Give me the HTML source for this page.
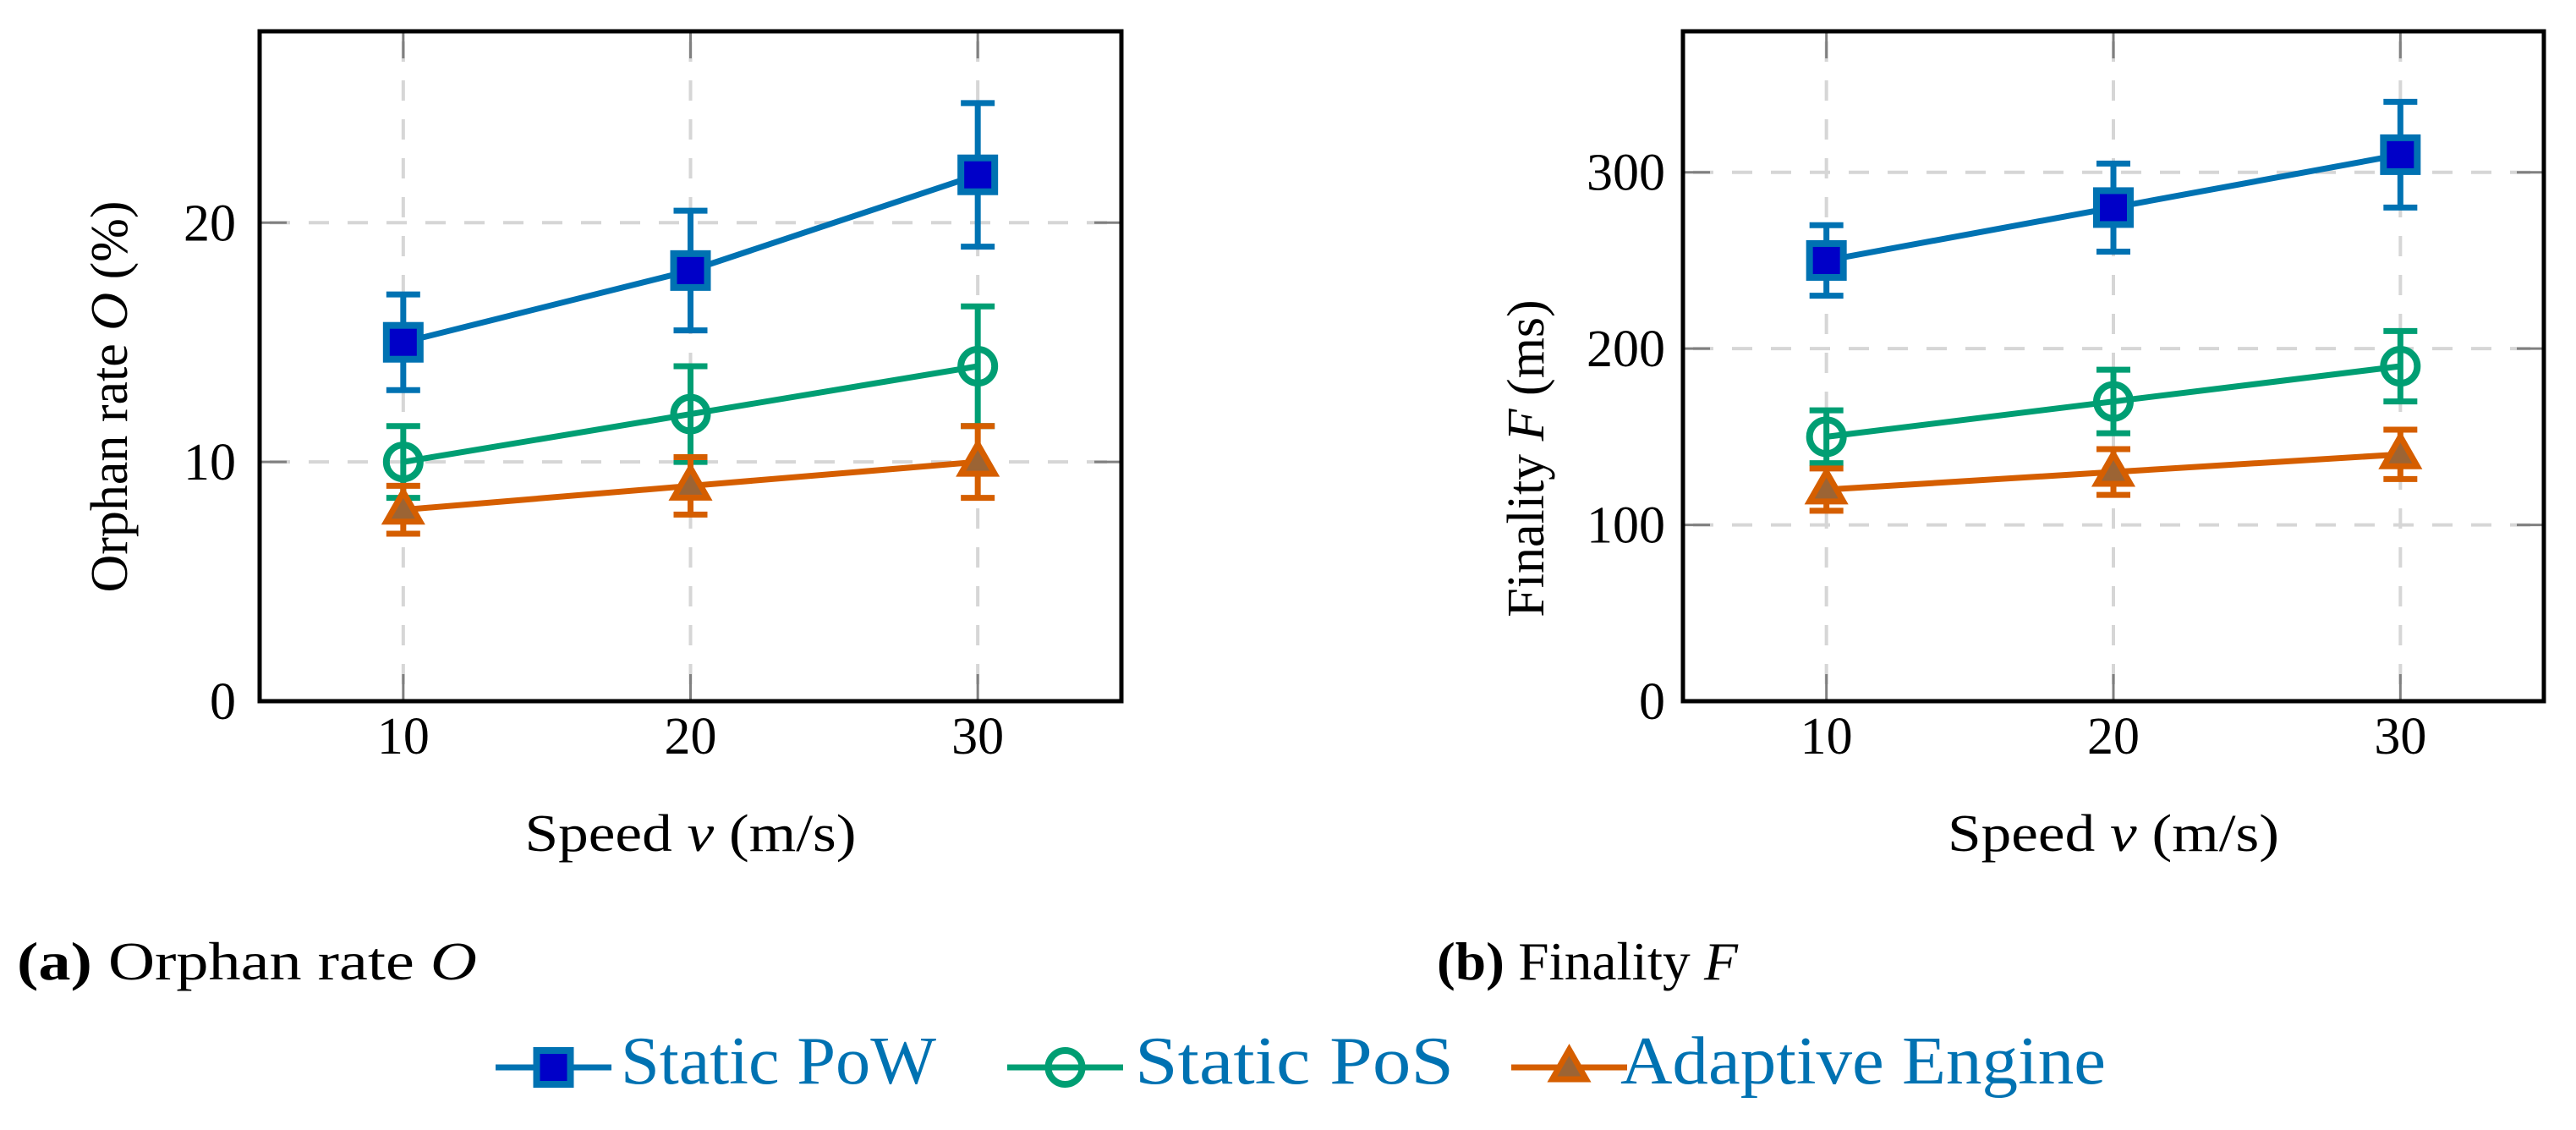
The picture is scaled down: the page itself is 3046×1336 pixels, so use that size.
<!DOCTYPE html>
<html><head><meta charset="utf-8"><style>
html,body{margin:0;padding:0;background:#fff;}
svg{display:block;font-family:"Liberation Serif",serif;}
</style></head><body>
<svg id="fig" width="3046" height="1336" viewBox="0 0 3046 1336" xmlns="http://www.w3.org/2000/svg">
<g id="pa"></g>
<g id="pb"></g>
<text x="20" y="1158" font-size="64" textLength="544" lengthAdjust="spacingAndGlyphs"><tspan font-weight="bold">(a)</tspan> Orphan rate <tspan font-style="italic">O</tspan></text>
<text x="1699" y="1158" font-size="64" textLength="356" lengthAdjust="spacingAndGlyphs"><tspan font-weight="bold">(b)</tspan> Finality <tspan font-style="italic">F</tspan></text>
<g id="legend"></g>
</svg>
<script>
const categories=[10,20,30];
const seriesNames=['Static PoW','Static PoS','Adaptive Engine'];
const orphanPow=[15,18,22];
const orphanPowErr=[2,2.5,3];
const orphanPos=[10,12,14];
const orphanPosErr=[1.5,2,2.5];
const orphanAda=[8,9,10];
const orphanAdaErr=[1,1.2,1.5];
const finPow=[250,280,310];
const finPowErr=[20,25,30];
const finPos=[150,170,190];
const finPosErr=[15,18,20];
const finAda=[120,130,140];
const finAdaErr=[12,13,14];
const orphanTicks=[0,10,20];
const finTicks=[0,100,200,300];

const NS='http://www.w3.org/2000/svg';
const colors=['#0072b2','#009e73','#d55e00'];
function mk(tag,attrs,parent){const e=document.createElementNS(NS,tag);for(const k in attrs)e.setAttribute(k,attrs[k]);parent.appendChild(e);return e;}
function marker(g,type,cx,cy){
  if(type===0){const m=mk('rect',{x:cx-20,y:cy-20,width:40,height:40,fill:'#0000c8',stroke:colors[0],'stroke-width':8},g);}
  else if(type===1){const m=mk('circle',{cx:cx,cy:cy,r:20,fill:'none',stroke:colors[1],'stroke-width':8},g);}
  else {const m=mk('polygon',{points:`${cx-20},${cy+14} ${cx+20},${cy+14} ${cx},${cy-21}`,fill:'#9c6434',stroke:colors[2],'stroke-width':7,'stroke-linejoin':'miter'},g);}
}
function panel(g,L,R,T,B,ymax,ticks,series,errs,ylabel,ylx,yly,tickRight){
  const sx=v=>L+(v-5)/30*(R-L);
  const sy=v=>B-v/ymax*(B-T);
  categories.forEach(c=>{const l=mk('line',{x1:sx(c),x2:sx(c),y1:T,y2:B,stroke:'#d6d6d6','stroke-width':4,'stroke-dasharray':'24 22','stroke-dashoffset':'-12'},g);});
  ticks.forEach(t=>{if(t===0)return;const l=mk('line',{x1:L,x2:R,y1:sy(t),y2:sy(t),stroke:'#d6d6d6','stroke-width':4,'stroke-dasharray':'24 22','stroke-dashoffset':'-12'},g);});
  categories.forEach(c=>{
    [[B,B-32],[T,T+32]].forEach(p=>{const l=mk('line',{x1:sx(c),x2:sx(c),y1:p[0],y2:p[1],stroke:'#808080','stroke-width':3},g);});
    const t=mk('text',{x:sx(c),y:891,'font-size':62,'text-anchor':'middle'},g);t.textContent=c;
    
  });
  ticks.forEach(v=>{
    [[L,L+32],[R,R-32]].forEach(p=>{const l=mk('line',{x1:p[0],x2:p[1],y1:sy(v),y2:sy(v),stroke:'#808080','stroke-width':3},g);});
    const t=mk('text',{x:tickRight,y:sy(v)+21,'font-size':62,'text-anchor':'end'},g);t.textContent=v;
    
  });
  series.forEach((s,i)=>{
    const sg=mk('g',{},g);
    
    
    const pl=mk('polyline',{points:s.map((v,j)=>sx(categories[j])+','+sy(v)).join(' '),fill:'none',stroke:colors[i],'stroke-width':7},sg);
    
    s.forEach((v,j)=>{
      const x=sx(categories[j]),e=errs[i][j];
      const eb=mk('path',{d:`M${x},${sy(v-e)}V${sy(v+e)}M${x-20},${sy(v-e)}H${x+20}M${x-20},${sy(v+e)}H${x+20}`,stroke:colors[i],'stroke-width':7,fill:'none'},sg);
      
      marker(sg,i,x,sy(v));
    });
  });
  const fr=mk('rect',{x:L,y:T,width:R-L,height:B-T,fill:'none',stroke:'#000','stroke-width':5},g);
  
  const xl=mk('text',{x:(L+R)/2,y:1006,'font-size':62,'text-anchor':'middle',textLength:392,lengthAdjust:'spacingAndGlyphs'},g);
  xl.innerHTML='Speed <tspan font-style="italic">v</tspan> (m/s)';
  
  const yl=mk('text',{x:0,y:0,'font-size':62,'text-anchor':'middle',transform:`translate(${ylx},${yly}) rotate(-90)`},g);
  yl.innerHTML=ylabel;
  
}
panel(document.getElementById('pa'),307,1326,37,829,28,orphanTicks,[orphanPow,orphanPos,orphanAda],[orphanPowErr,orphanPosErr,orphanAdaErr],'Orphan rate <tspan font-style="italic">O</tspan> (%)',150,469,279);
panel(document.getElementById('pb'),1990,3008,37,829,380,finTicks,[finPow,finPos,finAda],[finPowErr,finPosErr,finAdaErr],'Finality <tspan font-style="italic">F</tspan> (ms)',1825,542,1969);

const lg=document.getElementById('legend');
const lx=[[586,723,734,373],[1191,1328,1342,377],[1787,1924,1916,574]];
seriesNames.forEach((n,i)=>{
  const l=mk('line',{x1:lx[i][0],x2:lx[i][1],y1:1262,y2:1262,stroke:colors[i],'stroke-width':7},lg);
  
  marker(lg,i,(lx[i][0]+lx[i][1])/2,1262);
  const t=mk('text',{x:lx[i][2],y:1281,'font-size':80,fill:'#0072b2',textLength:lx[i][3],lengthAdjust:'spacingAndGlyphs'},lg);
  t.textContent=n;
  
});
</script>
</body></html>
